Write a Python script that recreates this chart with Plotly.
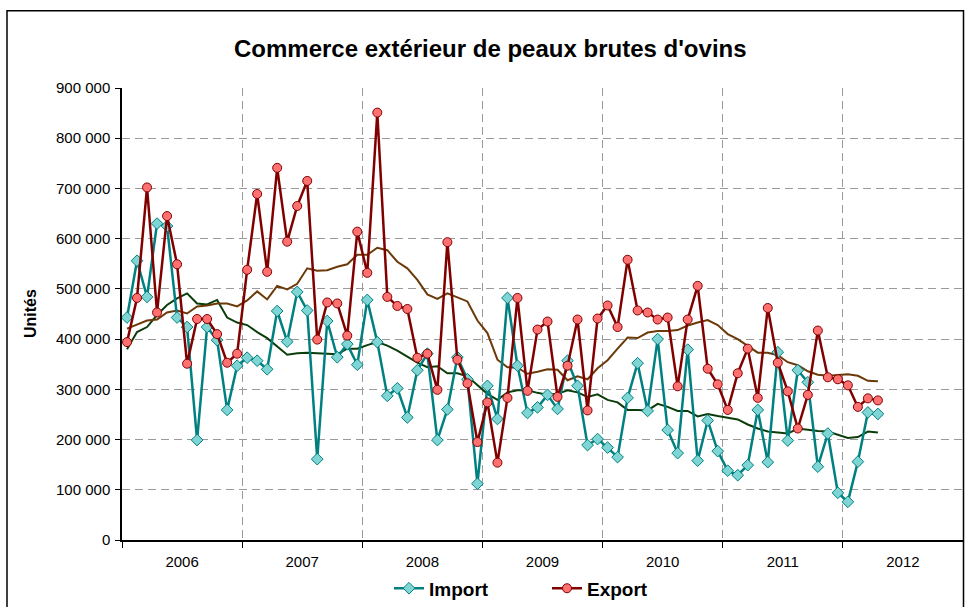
import plotly.graph_objects as go

years = ["2006", "2007", "2008", "2009", "2010", "2011", "2012"]

import_vals = [
    443, 556, 484, 630, 625, 443, 424, 199, 424, 398, 259, 347,
    363, 357, 340, 456, 395, 494, 457, 161, 436, 364, 390, 349,
    478, 394, 287, 302, 244, 338, 371, 199, 260, 364, 320, 112,
    307, 241, 482, 347, 253, 264, 289, 261, 357, 307, 189, 201,
    184, 165, 283, 352, 257, 400, 219, 173, 379, 158, 238, 177,
    138, 129, 149, 259, 155, 374, 198, 338, 314, 146, 212, 94,
    76, 156, 254, 251,
]
export_vals = [
    394, 482, 702, 453, 645, 549, 351, 440, 440, 410, 353, 371,
    538, 689, 534, 741, 594, 665, 715, 399, 473, 471, 407, 614,
    532, 851, 484, 466, 460, 363, 371, 299, 593, 359, 312, 195,
    274, 154, 283, 482, 297, 419, 435, 285, 347, 439, 258, 441,
    467, 424, 558, 457, 453, 439, 443, 306, 439, 506, 341, 310,
    259, 332, 381, 283, 462, 353, 296, 222, 289, 417, 324, 320,
    308, 265, 282, 278,
]
import_trend = [
    380, 414, 424, 448, 468, 481, 491, 471, 469, 478, 443, 433,
    428, 414, 402, 386, 369, 372, 373, 372, 371, 370, 381, 381,
    388, 394, 387, 377, 365, 353, 344, 346, 332, 332, 326, 309,
    291, 279, 294, 298, 298, 293, 289, 291, 298, 294, 285, 290,
    279, 274, 259, 259, 258, 271, 265, 257, 257, 246, 251, 247,
    244, 240, 230, 222, 216, 214, 212, 222, 219, 217, 216, 209,
    203, 205, 216, 214,
]
export_trend = [
    421, 429, 437, 439, 453, 457, 451, 465, 467, 471, 471, 465,
    477, 495, 479, 506, 499, 510, 541, 536, 537, 544, 549, 568,
    568, 582, 577, 554, 541, 518, 489, 480, 491, 483, 475, 437,
    412, 359, 344, 343, 331, 335, 340, 339, 318, 326, 320, 342,
    358, 381, 403, 402, 413, 416, 416, 418, 427, 433, 438, 428,
    410, 400, 387, 373, 373, 368, 354, 348, 336, 329, 327, 328,
    330, 327, 317, 316,
]

months = list(range(len(import_vals)))
scale = 1000
imp = [v * scale for v in import_vals]
exp_ = [v * scale for v in export_vals]
imp_t = [v * scale for v in import_trend]
exp_t = [v * scale for v in export_trend]

TEAL = "#008080"
TEAL_FILL = "#7fd4d4"
DRED = "#800000"
RED_FILL = "#ff7070"
GREEN = "#0b3d0b"
BROWN = "#6b3a08"
FONT = "Liberation Sans, Arial, sans-serif"

fig = go.Figure()
fig.add_trace(go.Scatter(x=months, y=imp_t, mode="lines", showlegend=False,
                         line=dict(color=GREEN, width=2)))
fig.add_trace(go.Scatter(x=months, y=exp_t, mode="lines", showlegend=False,
                         line=dict(color=BROWN, width=2)))
fig.add_trace(go.Scatter(x=months, y=imp, mode="lines+markers", name="Import",
                         line=dict(color=TEAL, width=2.5),
                         marker=dict(symbol="diamond", size=9, color=TEAL_FILL,
                                     line=dict(color=TEAL, width=1))))
fig.add_trace(go.Scatter(x=months, y=exp_, mode="lines+markers", name="Export",
                         line=dict(color=DRED, width=2.5),
                         marker=dict(symbol="circle", size=9, color=RED_FILL,
                                     line=dict(color=DRED, width=1))))

W, H = 967, 607
ml, mr, mt, mb = 122, 4, 87.5, 66.5
pw, ph = W - ml - mr, H - mt - mb

yvals = list(range(0, 900001, 100000))
ytext = [f"{v:,}".replace(",", " ") for v in yvals]

fig.update_layout(
    width=W, height=H,
    margin=dict(l=ml, r=mr, t=mt, b=mb, pad=0, autoexpand=False),
    paper_bgcolor="white", plot_bgcolor="white",
    font=dict(family=FONT, size=15, color="black"),
    showlegend=True,
    legend=dict(orientation="h", x=(389 - ml) / pw, xanchor="left",
                y=-(589 - (mt + ph)) / ph, yanchor="middle",
                font=dict(family=FONT, size=19, color="black", weight="bold"),
                itemwidth=30, entrywidth=113, tracegroupgap=0,
                bgcolor="rgba(0,0,0,0)"),
    xaxis=dict(
        range=[-0.5, 83.5], showgrid=False, zeroline=False,
        tickvals=[5.5 + 12 * i for i in range(len(years))], ticktext=years,
        ticks="", showline=True, linecolor="black", linewidth=1.5,
        tickfont=dict(family=FONT, size=15), ticklabelstandoff=7,
        minor=dict(tick0=-0.5, dtick=12, ticks="outside", ticklen=6,
                   tickcolor="black", showgrid=True, gridcolor="#9a9a9a",
                   griddash="8px,5px", gridwidth=1),
    ),
    yaxis=dict(
        range=[0, 900000], tickvals=yvals, ticktext=ytext,
        showgrid=True, gridcolor="#9a9a9a", griddash="8px,5px", gridwidth=1,
        zeroline=False, showline=True, linecolor="black", linewidth=1.5,
        ticks="outside", ticklen=5, tickcolor="black",
        tickfont=dict(family=FONT, size=15), ticklabelstandoff=2,
    ),
    annotations=[
        dict(text="<b>Commerce extérieur de peaux brutes d'ovins</b>",
             xref="paper", yref="paper", x=(490 - ml) / pw, y=1 + (mt - 48) / ph,
             xanchor="center", yanchor="middle", showarrow=False,
             font=dict(family=FONT, size=24, color="black")),
        dict(text="<b>Unités</b>", textangle=-90,
             xref="paper", yref="paper", x=(30 - ml) / pw, y=0.5,
             xanchor="center", yanchor="middle", showarrow=False,
             font=dict(family=FONT, size=16, color="black")),
    ],
    shapes=[
        dict(type="rect", xref="paper", yref="paper",
             x0=(7 - ml) / pw, x1=(963.5 - ml) / pw,
             y0=-(H + 10 - mt - ph) / ph, y1=1 + (mt - 10) / ph,
             line=dict(color="black", width=1.5), fillcolor="rgba(0,0,0,0)",
             layer="above"),
    ],
)

fig.write_html("out.html", config={"displayModeBar": False},
               post_script="document.body.style.margin='0';document.body.style.overflow='hidden';")
